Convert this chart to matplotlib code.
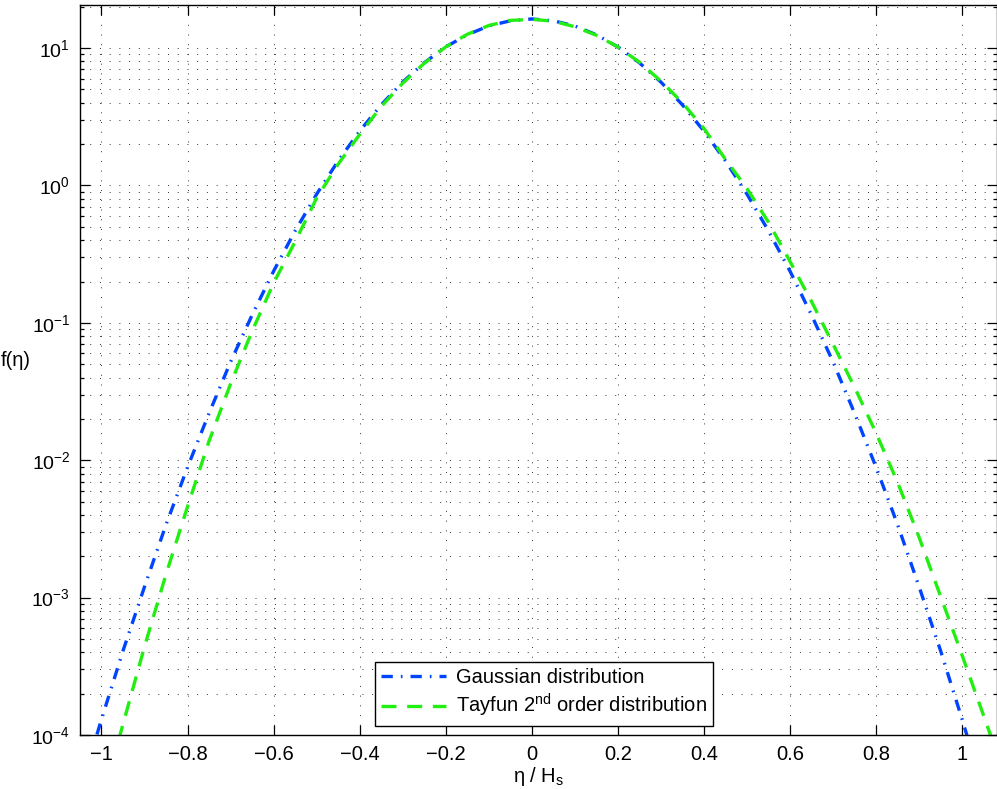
"""Densidad de elevación: Gaussiana vs Tayfun 2º orden (escala semilog)."""
import math

import matplotlib
matplotlib.use("Agg")
import matplotlib.pyplot as plt
from matplotlib.ticker import FixedLocator, FuncFormatter, LogLocator, NullFormatter

plt.rcParams["font.family"] = ["Liberation Sans", "DejaVu Sans"]
plt.rcParams["mathtext.fontset"] = "custom"
plt.rcParams["mathtext.rm"] = "Liberation Sans"
plt.rcParams["mathtext.it"] = "Liberation Sans:italic"

# eta / Hs
eta = [-1.05, -1.0, -0.95, -0.9, -0.85, -0.8, -0.75, -0.7, -0.65, -0.6, -0.55,
       -0.5, -0.45, -0.4, -0.35, -0.3, -0.25, -0.2, -0.15, -0.1, -0.05, 0.0,
       0.05, 0.1, 0.15, 0.2, 0.25, 0.3, 0.35, 0.4, 0.45, 0.5, 0.55, 0.6, 0.65,
       0.7, 0.75, 0.8, 0.85, 0.9, 0.95, 1.0, 1.05, 1.1]

gauss = [3.9e-5, 1.3e-4, 4.1e-4, 1.2e-3, 3.4e-3, 8.9e-3, 0.022, 0.052, 0.114,
         0.238, 0.467, 0.865, 1.51, 2.49, 3.86, 5.66, 7.82, 10.2, 12.5, 14.5,
         15.8, 16.3, 15.8, 14.5, 12.5, 10.2, 7.82, 5.66, 3.86, 2.49, 1.51,
         0.865, 0.467, 0.238, 0.114, 0.052, 0.022, 8.9e-3, 3.4e-3, 1.2e-3,
         4.1e-4, 1.3e-4, 3.9e-5, 1.0e-5]

tayfun = [8.0e-6, 3.2e-5, 1.2e-4, 4.4e-4, 1.48e-3, 4.6e-3, 0.0138, 0.036,
          0.087, 0.195, 0.39, 0.81, 1.43, 2.35, 3.75, 5.55, 7.75, 10.2, 12.6,
          14.6, 15.9, 16.2, 15.7, 14.3, 12.4, 10.2, 7.9, 5.75, 4.0, 2.6, 1.55,
          0.95, 0.54, 0.28, 0.143, 0.070, 0.034, 0.0158, 6.9e-3, 2.75e-3,
          1.02e-3, 3.8e-4, 1.38e-4, 5.0e-5]

xticks = [-1, -0.8, -0.6, -0.4, -0.2, 0, 0.2, 0.4, 0.6, 0.8, 1]

fig = plt.figure(figsize=(9.97, 7.89), dpi=100)
ax = fig.add_axes([0.0802, 0.0684, 0.9198, 0.9253])

ax.semilogy(eta, gauss, color="#0044ff", lw=2.4, linestyle=(0, (3.4, 2.4, 0.5, 2.4)),
            label="Gaussian distribution")
ax.semilogy(eta, tayfun, color="#22ee11", lw=2.4, linestyle=(0, (4.5, 3.2)),
            label="Tayfun 2$^{\\rm nd}$ order distribution")

ax.set_xlim(-1.05, 1.081)
ax.set_ylim(1e-4, 20.6)
ax.xaxis.set_major_locator(FixedLocator(xticks))
ax.xaxis.set_major_formatter(FuncFormatter(lambda v, p: f"{v:g}".replace("-", "\u2212")))
ax.yaxis.set_major_locator(LogLocator(base=10, numticks=10))
ax.yaxis.set_minor_locator(LogLocator(base=10, subs=range(2, 10), numticks=20))
ax.yaxis.set_minor_formatter(NullFormatter())
ax.yaxis.set_major_formatter(FuncFormatter(lambda v, p: "$10^{%d}$" % round(math.log10(v))))

ax.tick_params(which="both", direction="in", top=True, right=True, width=0.9)
ax.tick_params(which="major", length=7, pad=7)
ax.tick_params(which="minor", length=3)
ax.tick_params(axis="x", labelsize=14.5)
ax.tick_params(axis="y", labelsize=14)
for s in ax.spines.values():
    s.set_linewidth(1.0)

grid_kw = dict(color="#333333", linestyle=(0, (1, 9)), linewidth=0.7)
ax.grid(True, which="major", axis="both", **grid_kw)
ax.grid(True, which="minor", axis="y", **grid_kw)

ax.set_xlabel("\u03b7 / H$_{\\rm s}$", fontsize=14.5, labelpad=1)
ax.set_ylabel("f(\u03b7)", fontsize=14.5, rotation=0)
ax.yaxis.set_label_coords(-0.0705, 0.50)

leg = ax.legend(loc="lower center", bbox_to_anchor=(0.506, 0.013), fontsize=14.5,
                fancybox=False, framealpha=1, edgecolor="black", handlelength=3.2,
                borderpad=0.3, labelspacing=0.25, handletextpad=0.5, borderaxespad=0)
leg.get_frame().set_linewidth(1.0)

fig.savefig("out.png", dpi=100)
